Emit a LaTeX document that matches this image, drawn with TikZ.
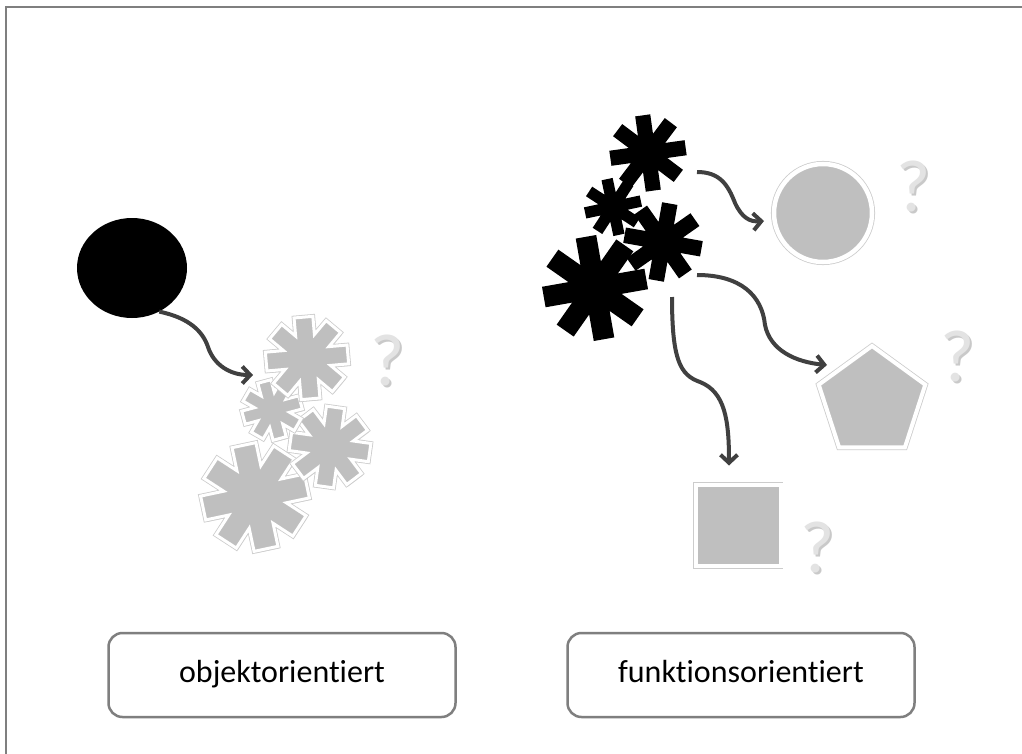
\documentclass[tikz,border=0pt]{standalone}
\usepackage{fontspec}
\setmainfont{Carlito}[Ligatures={NoCommon}]
\usetikzlibrary{arrows.meta,shapes.geometric,shadows}
\definecolor{shapegray}{HTML}{BFBFBF}
\definecolor{arrowgray}{HTML}{404040}
\definecolor{framegray}{HTML}{7F7F7F}
\tikzset{
  grayshape/.style={fill=shapegray,draw=white,line width=#1,line join=miter,
    drop shadow={opacity=0.3,shadow xshift=1.5pt,shadow yshift=-2pt},
    preaction={draw=gray!40,line width=#1+1.6pt}},
  grayshape/.default=3pt,
  blackshape/.style={fill=black},
  flow/.style={draw=arrowgray,line width=4pt,-{Straight Barb[length=8pt,width=17pt]}},
  catbox/.style={draw=framegray,line width=2.5pt,rounded corners=14pt,
    minimum width=347pt,minimum height=84pt,font=\fontsize{32}{38}\selectfont,fill=white},
  qmark/.style={font=\fontsize{74}{78}\selectfont,text=gray!22,inner sep=0pt},
  qshadow/.style={font=\fontsize{74}{78}\selectfont,text=gray!70,opacity=0.6,inner sep=0pt}
}
% asterisk: x, y, outer radius, rotation, arm ratio, style
\newcommand\myast[6]{%
  \begin{scope}[shift={(#1,#2)},rotate=#4]
    \pgfmathsetmacro\aw{#5*#3}%
    \pgfmathsetmacro\ar{sqrt(#3*#3+\aw*\aw)}%
    \pgfmathsetmacro\aa{atan(\aw/#3)}%
    \pgfmathsetmacro\ad{2.613*\aw}%
    \path[#6] (-\aa:\ar) \foreach \k in {0,45,...,315}{ -- (\k-\aa:\ar) -- (\k+\aa:\ar) -- (\k+22.5:\ad)} -- cycle;
  \end{scope}}
\newcommand\myq[3]{% name, x, y
  \node[qshadow] (#1s) at (#2+1.5,#3+2) {?};
  \node[qmark] (#1) at (#2,#3) {?};}
\begin{document}
\begin{tikzpicture}[x=1pt,y=-1pt]
\useasboundingbox (0,0) rectangle (1022,754);
\fill[white] (0,0) rectangle (1022,754);
\draw[framegray,line width=2pt] (6,754) -- (6,7) -- (1022,7);

% left side
\node[ellipse,fill=black,minimum width=110pt,minimum height=100pt,inner sep=0pt] (bc) at (132,268) {};
\myast{255}{497}{53}{12}{0.23}{grayshape}
\myast{330}{447}{40}{-8}{0.23}{grayshape}
\myast{272}{410}{29.5}{15}{0.23}{grayshape}
\myast{307}{358}{41}{5}{0.23}{grayshape}
\coordinate (lt) at (253,375);
\draw[flow] (bc.-58) .. controls (190,318) and (203,332) .. (208,347) .. controls (214,365) and (230,375) .. (lt);
\myq{q1}{388}{360}

% right side
\myast{595}{288}{52}{10}{0.2}{blackshape}
\myast{663}{242}{39}{-10}{0.2}{blackshape}
\myast{613}{207}{28.5}{12}{0.2}{blackshape}
\myast{648}{153}{38}{8}{0.2}{blackshape}
\coordinate (s1) at (697,172);
\coordinate (s2) at (697,275);
\coordinate (s3) at (672,297);

\node[circle,grayshape=4.5pt,minimum size=98pt,inner sep=0pt] (gc) at (823,213) {};
\node[regular polygon,regular polygon sides=5,grayshape=4pt,minimum size=112pt,inner sep=0pt] (pent) at (872,402) {};
\node[rectangle,grayshape=4pt,minimum width=85pt,minimum height=81pt,inner sep=0pt] (sq) at (738,525.5) {};

\coordinate (t1) at ([shift={(-59,8)}]gc.center);
\coordinate (t2) at ([shift={(-45,-37)}]pent.center);
\coordinate (t3) at ([shift={(-9,-60)}]sq.center);

\draw[flow] (s1) .. controls (720,172) and (728,185) .. (735,203) .. controls (742,218) and (750,222) .. (t1);
\draw[flow] (s2) .. controls (740,275) and (762,295) .. (765,325) .. controls (770,350) and (795,362) .. (t2);
\draw[flow] (s3) .. controls (672,360) and (680,375) .. (700,382) .. controls (725,392) and (729,420) .. (t3);

\myq{q2}{914}{186}
\myq{q3}{958}{356}
\myq{q4}{818}{547}

% labels
\node[catbox] (obj) at (282,675) {\strut objektorientiert};
\node[catbox] (fun) at (741,675) {\strut funktionsorientiert};
\end{tikzpicture}
\end{document}
